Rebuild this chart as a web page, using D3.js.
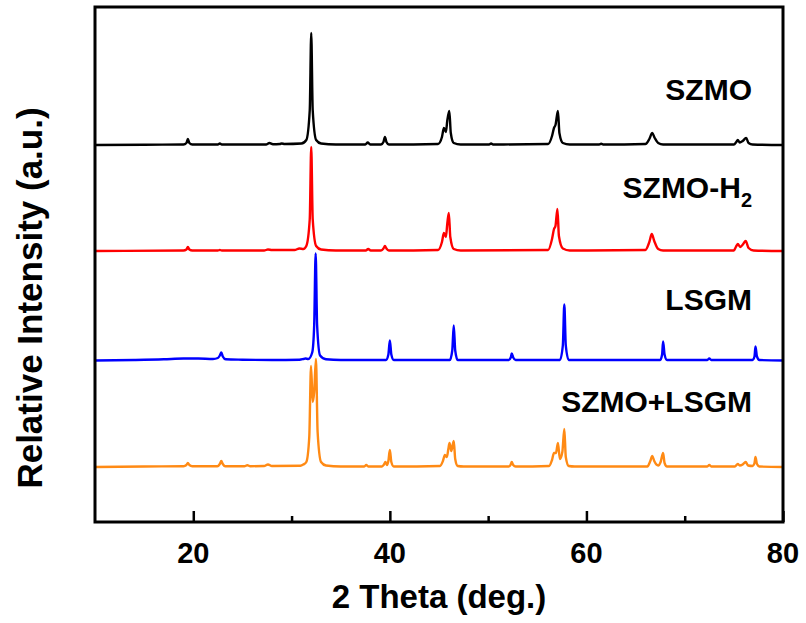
<!DOCTYPE html>
<head>
<meta charset="utf-8">
</head>
<style>
body { margin: 0; background: #fff; }
text { font-family: "Liberation Sans", Arial, sans-serif; font-weight: bold; fill: #000; }
.trace { fill: none; stroke-width: 2.4; stroke-linejoin: round; }
.axis path, .axis line { stroke: #000; }
</style>
<body>
<svg id="xrd" width="806" height="623"></svg>

<script src="https://d3js.org/d3.v7.min.js"></script>
<script>

// [2theta, intensity] points
var szmo = [
  [10,0],[15,0.3],[19.0,0.5],[19.3,2],[19.45,6],[19.6,2],[19.9,0.5],
  [22.5,0.5],[22.7,1.5],[22.9,0.5],
  [27.4,0.5],[27.75,2],[28.1,0.8],[28.8,1],[29.0,1.5],[29.3,1],
  [31.0,1.5],[31.5,5],[31.85,35],[32.0,112],[32.15,35],[32.5,5],[33.0,1.5],[34.5,0.5],
  [37.5,0.5],[37.75,2.5],[38.0,0.5],
  [39.1,0.5],[39.35,3],[39.5,8],[39.65,3],[39.9,0.5],
  [44.9,1],[45.3,8],[45.5,17],[45.7,13],[45.85,25],[46.05,34],[46.2,12],[46.5,2],[47.2,0.5],
  [50.1,0.5],[50.3,1.5],[50.5,0.5],
  [56.1,1],[56.5,9],[56.7,17],[56.85,20],[57.1,34],[57.25,12],[57.6,2],[58.3,0.5],
  [61.3,0.5],[61.5,1.2],[61.7,0.5],
  [66.0,1],[66.4,6],[66.7,12],[66.95,7],[67.3,2],[67.8,0.5],
  [75.0,0.5],[75.25,3],[75.4,5],[75.6,2.5],[75.9,4],[76.25,7],[76.5,2],[76.9,0.5],
  [80,0]
];

var szmoH2 = [
  [10,0],[19.0,0.5],[19.3,1.5],[19.45,4],[19.6,1.5],[19.9,0.5],
  [22.5,0.5],[22.7,1],[22.9,0.5],
  [27.2,0.5],[27.6,1.5],[28.0,1],[30.3,1],[30.8,2.5],[31.2,2],
  [31.5,5],[31.85,32],[32.0,104],[32.15,32],[32.5,5],[33.0,1.5],[34.5,0.5],
  [37.55,0.5],[37.8,2],[38.05,0.5],
  [39.1,0.5],[39.35,2.5],[39.5,5],[39.65,2.5],[39.9,0.5],
  [44.9,1],[45.3,9],[45.5,18],[45.7,14],[45.85,28],[46.0,38],[46.15,14],[46.5,2],[47.2,0.5],
  [56.1,1],[56.5,12],[56.7,22],[56.85,25],[57.05,42],[57.2,15],[57.6,2.5],[58.3,0.5],
  [66.0,1],[66.4,9],[66.65,17],[66.9,10],[67.3,2],[67.8,0.5],
  [75.0,0.5],[75.2,4],[75.4,7],[75.65,4],[75.95,7],[76.2,10],[76.5,3],[77.0,0.5],
  [80,0]
];

var lsgm = [
  [10,0],[14,0.5],[17,1.2],[19,2],[20.5,2],[22.0,1.5],[22.5,2.5],[22.7,5],[22.85,8],[23.0,4],[23.3,1.2],
  [25,0.8],[28,0.5],[30.8,0.8],[31.2,1.5],[31.4,2],[31.7,1.5],
  [32.1,8],[32.3,35],[32.45,107],[32.6,35],[32.9,5],[33.5,1.2],[35,0.5],
  [39.6,0.5],[39.85,6],[40.0,20],[40.15,6],[40.4,0.5],
  [46.1,0.5],[46.35,10],[46.5,35],[46.65,10],[46.9,0.5],
  [52.1,0.5],[52.3,3],[52.4,7],[52.55,3],[52.8,0.5],
  [57.3,0.5],[57.6,15],[57.75,56],[57.9,15],[58.2,0.5],
  [67.5,0.5],[67.7,6],[67.8,19],[67.95,6],[68.2,0.5],
  [72.3,0.5],[72.5,2],[72.7,0.5],
  [76.9,0.5],[77.1,4],[77.2,14],[77.35,4],[77.6,0.5],
  [80,0]
];

var mixed = [
  [10,0],[15,0.5],[19.0,0.8],[19.3,2],[19.45,4],[19.6,2],[19.9,0.8],
  [22.45,0.8],[22.7,3],[22.85,6],[23.0,3],[23.25,0.8],
  [25.2,0.8],[25.5,1.8],[25.8,0.8],[27.2,1],[27.6,2.5],[28.0,1],
  [30.9,1.2],[31.2,2.5],[31.5,5],[31.8,30],[31.98,101],[32.15,65],[32.3,75],[32.48,108],[32.65,35],[33.0,5],[33.5,1.5],[35,0.5],
  [37.4,0.5],[37.6,2],[37.8,0.5],
  [39.2,0.5],[39.4,2.5],[39.55,5],[39.7,2],[39.85,6],[40.0,17],[40.15,5],[40.4,0.5],
  [45.1,1],[45.4,6],[45.6,12],[45.8,10],[45.95,18],[46.07,24],[46.25,16],[46.5,26],[46.65,8],[46.9,1],[47.5,0.5],
  [52.1,0.5],[52.3,2.5],[52.4,5],[52.55,2],[52.8,0.5],
  [56.2,1],[56.5,7],[56.7,14],[56.9,14],[57.1,24],[57.3,8],[57.55,15],[57.75,38],[57.9,10],[58.2,1],[58.8,0.5],
  [66.2,0.5],[66.5,6],[66.7,11],[66.9,6],[67.3,1.5],[67.55,5],[67.8,14],[67.95,4],[68.2,0.5],
  [72.3,0.5],[72.5,2],[72.7,0.5],
  [75.1,0.5],[75.4,3],[75.6,1.5],[75.9,2.5],[76.2,5],[76.45,1.5],[76.9,1],[77.1,4],[77.2,10],[77.35,3],[77.6,0.5],
  [80,0]
];

var seriesNames = ["SZMO", "SZMO-H2", "LSGM", "SZMO+LSGM"];
var seriesData = [szmo, szmoH2, lsgm, mixed];
var seriesOffsets = [377, 271, 161.5, 55];   // vertical stacking offsets
var seriesColors = ["#000000", "#ff0000", "#0000ff", "#ff8a14"];
var xTicks = [20, 40, 60, 80];
var xMinorTicks = [30, 50, 70];

var svg = d3.select("#xrd"),
    margin = {top: 7, right: 23, bottom: 101, left: 95},
    width = +svg.attr("width") - margin.left - margin.right,
    height = +svg.attr("height") - margin.top - margin.bottom;

var x = d3.scaleLinear().domain([10, 80]).range([0, width]),
    y = d3.scaleLinear().domain([0, 515]).range([height, 0]);

var g = svg.append("g")
    .attr("transform", "translate(" + margin.left + "," + margin.top + ")");

var line = d3.line()
    .curve(d3.curveMonotoneX)
    .x(function(d) { return x(d[0]); })
    .y(function(d) { return y(d[1] + d.off); });

seriesData.forEach(function(data, i) {
  var pts = data.map(function(d) { var p = [d[0], d[1]]; p.off = seriesOffsets[i]; return p; });
  g.append("path")
      .attr("class", "trace")
      .attr("stroke", seriesColors[i])
      .attr("d", line(pts));
});

// bottom axis, ticks inward
g.append("g")
    .attr("class", "axis")
    .attr("transform", "translate(0," + height + ")")
    .call(d3.axisBottom(x).tickValues(xTicks).tickSize(-11).tickFormat(""))
    .call(function(a) { a.select(".domain").remove(); a.selectAll("line").attr("stroke-width", 2.5); });

g.append("g")
    .attr("class", "axis")
    .attr("transform", "translate(0," + height + ")")
    .call(d3.axisBottom(x).tickValues(xMinorTicks).tickSize(-6).tickFormat(""))
    .call(function(a) { a.select(".domain").remove(); a.selectAll("line").attr("stroke-width", 2.5); });

g.selectAll(".xlabel")
  .data(xTicks)
  .enter().append("text")
    .attr("class", "xlabel")
    .attr("x", function(d) { return x(d); })
    .attr("y", height + 41)
    .attr("text-anchor", "middle")
    .style("font-size", "29px")
    .text(function(d) { return d; });

// frame
g.append("rect")
    .attr("width", width)
    .attr("height", height)
    .attr("fill", "none")
    .attr("stroke", "#000")
    .attr("stroke-width", 3);

// series labels
var labelY = [100, 198, 310, 412];
seriesNames.forEach(function(name, i) {
  var t = svg.append("text")
      .attr("x", 752)
      .attr("y", labelY[i])
      .attr("text-anchor", "end")
      .style("font-size", "30px");
  if (name == "SZMO-H2") {
    t.append("tspan").text("SZMO-H");
    t.append("tspan").attr("dy", 9).style("font-size", "20px").text("2");
  } else {
    t.text(name);
  }
});

svg.append("text")
    .attr("x", margin.left + width / 2)
    .attr("y", 608)
    .attr("text-anchor", "middle")
    .style("font-size", "33px")
    .text("2 Theta (deg.)");

svg.append("text")
    .attr("transform", "translate(42,298) rotate(-90)")
    .attr("text-anchor", "middle")
    .style("font-size", "35px")
    .text("Relative Intensity (a.u.)");

</script>
</body>
